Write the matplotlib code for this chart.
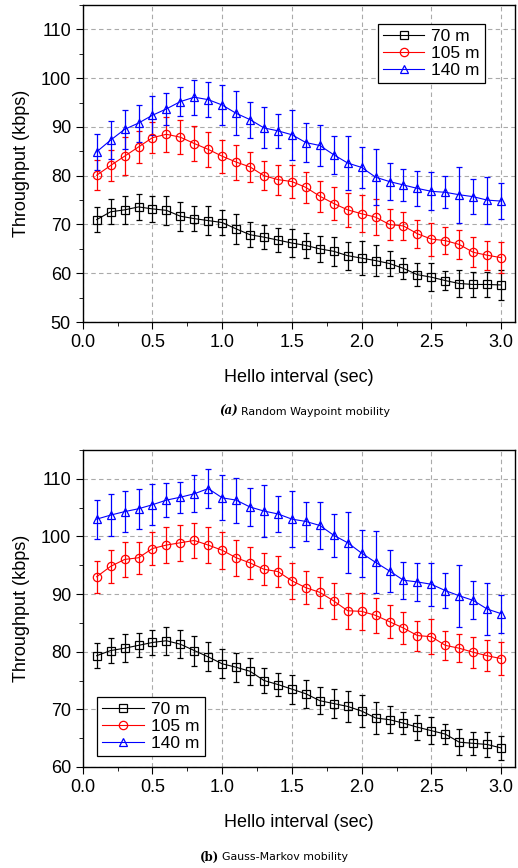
import numpy as np
import matplotlib
matplotlib.use("Agg")
import matplotlib.pyplot as plt
from matplotlib.ticker import MultipleLocator

plt.rcParams['font.family'] = ['Liberation Sans', 'DejaVu Sans']

hello = [0.1, 0.2, 0.3, 0.4, 0.5, 0.6, 0.7, 0.8, 0.9, 1.0,
         1.1, 1.2, 1.3, 1.4, 1.5, 1.6, 1.7, 1.8, 1.9, 2.0,
         2.1, 2.2, 2.3, 2.4, 2.5, 2.6, 2.7, 2.8, 2.9, 3.0]
labels = ["70 m", "105 m", "140 m"]

# (a) Random Waypoint
rw_70 = [71.0, 72.6, 73.0, 73.6, 73.2, 72.9, 71.7, 71.2, 70.8, 70.4,
         69.1, 67.9, 67.4, 66.8, 66.2, 65.7, 65.0, 64.5, 63.6, 63.1,
         62.6, 62.0, 61.0, 59.7, 59.2, 58.5, 57.9, 57.7, 57.7, 57.6]
rw_70_err = [2.5, 2.6, 2.8, 2.7, 2.7, 3.0, 3.0, 2.5, 2.9, 2.6,
             3.0, 2.6, 2.5, 2.5, 2.9, 2.6, 2.6, 3.0, 2.9, 3.5,
             3.1, 2.6, 2.2, 2.4, 2.9, 2.0, 2.7, 2.5, 2.6, 3.0]
rw_105 = [80.1, 82.1, 84.0, 85.9, 87.8, 88.5, 87.9, 86.6, 85.4, 84.0,
          82.8, 81.8, 80.0, 79.2, 78.8, 77.6, 75.8, 74.3, 73.0, 72.2,
          71.5, 70.0, 69.7, 68.1, 67.0, 66.7, 65.9, 64.3, 63.7, 63.2]
rw_105_err = [3.1, 3.2, 3.9, 3.3, 3.2, 3.6, 3.5, 3.6, 3.6, 3.4,
              3.6, 3.1, 3.0, 3.1, 3.3, 3.2, 3.2, 3.3, 3.5, 3.8,
              3.7, 3.2, 2.8, 2.9, 3.4, 2.7, 3.0, 3.1, 3.0, 3.2]
rw_140 = [84.9, 87.3, 89.5, 90.8, 92.4, 93.7, 95.2, 96.1, 95.6, 94.5,
          92.8, 91.5, 89.8, 89.2, 88.4, 86.8, 86.2, 84.3, 82.6, 81.7,
          79.7, 78.8, 78.1, 77.4, 76.8, 76.6, 76.1, 75.7, 75.0, 74.8]
rw_140_err = [3.7, 3.9, 4.0, 3.8, 4.0, 3.3, 2.9, 3.6, 3.6, 4.1,
              4.5, 3.7, 4.2, 3.5, 5.1, 4.0, 4.3, 3.9, 5.5, 4.2,
              5.7, 3.8, 3.3, 3.6, 3.9, 3.3, 5.7, 3.6, 4.8, 3.7]

# (b) Gauss-Markov
gm_70 = [79.3, 80.2, 80.6, 81.1, 81.6, 81.9, 81.3, 80.2, 79.1, 77.9,
         77.3, 76.6, 75.0, 74.3, 73.5, 72.7, 71.5, 71.0, 70.5, 69.7,
         68.5, 68.2, 67.6, 66.9, 66.3, 65.7, 64.3, 64.1, 63.9, 63.3]
gm_70_err = [2.2, 2.2, 2.4, 2.1, 2.2, 2.4, 2.4, 2.6, 2.5, 2.5,
             2.5, 2.3, 2.2, 2.0, 2.5, 2.4, 2.3, 2.5, 2.7, 2.8,
             2.7, 2.3, 1.9, 2.2, 2.4, 1.7, 2.3, 2.0, 2.2, 2.1]
gm_105 = [93.0, 94.8, 96.0, 96.3, 97.9, 98.5, 98.9, 99.3, 98.5, 97.6,
          96.3, 95.4, 94.3, 93.9, 92.3, 91.1, 90.3, 88.8, 87.1, 87.0,
          86.3, 85.2, 84.1, 82.8, 82.6, 81.1, 80.6, 79.9, 79.3, 78.8]
gm_105_err = [2.8, 2.9, 3.0, 2.8, 2.8, 3.1, 3.1, 3.1, 3.1, 3.2,
              3.1, 2.8, 2.8, 2.7, 3.1, 2.9, 2.7, 3.1, 3.1, 3.2,
              3.0, 2.9, 2.8, 2.6, 3.0, 2.5, 2.4, 2.7, 2.7, 2.8]
gm_140 = [103.0, 103.7, 104.3, 104.8, 105.5, 106.3, 106.8, 107.4, 108.3, 106.7,
          106.3, 105.1, 104.4, 103.9, 103.0, 102.6, 101.9, 100.2, 98.9, 97.1,
          95.5, 94.0, 92.4, 92.1, 91.7, 90.6, 89.7, 88.9, 87.4, 86.6]
gm_140_err = [3.4, 3.6, 3.6, 3.5, 3.6, 3.0, 2.7, 3.2, 3.4, 3.9,
              3.9, 3.3, 4.5, 3.2, 4.8, 3.4, 4.1, 3.7, 5.3, 4.1,
              5.4, 3.6, 3.2, 3.3, 3.7, 3.0, 5.4, 3.3, 4.5, 3.3]

colors = ["black", "red", "blue"]
markers = ["s", "o", "^"]

fig = plt.figure(figsize=(5.18, 8.68), dpi=100)
ax1 = fig.add_axes([0.1597, 0.629, 0.8346, 0.3652])
ax2 = fig.add_axes([0.1597, 0.1164, 0.8346, 0.3652])


def draw(ax, series, ylim, legend_loc, legend_anchor):
    handles = []
    for (y, e), c, m, lab in zip(series, colors, markers, labels):
        eb = ax.errorbar(hello, y, yerr=e, color=c, ecolor=c, marker=m, ms=6,
                         mfc="none", mec=c, mew=0.9, lw=0.8, elinewidth=0.9,
                         capsize=2.5, capthick=0.9, label=lab)
        handles.append(eb.lines[0])
    ax.set_xlim(0, 3.1)
    ax.set_ylim(*ylim)
    ax.xaxis.set_major_locator(MultipleLocator(0.5))
    ax.xaxis.set_minor_locator(MultipleLocator(0.25))
    ax.yaxis.set_major_locator(MultipleLocator(10))
    ax.yaxis.set_minor_locator(MultipleLocator(5))
    ax.xaxis.set_major_formatter(plt.FormatStrFormatter("%.1f"))
    ax.tick_params(which="major", direction="out", length=5, labelsize=13)
    ax.tick_params(which="minor", direction="out", length=3)
    ax.grid(True, which="major", ls=(0, (4, 3)), color="#aaaaaa", lw=0.8)
    ax.set_axisbelow(True)
    ax.set_xlabel("Hello interval (sec)", fontsize=13, labelpad=13)
    ax.set_ylabel("Throughput (kbps)", fontsize=13, labelpad=8)
    for s in ax.spines.values():
        s.set_linewidth(1.0)
    leg = ax.legend(handles, labels, loc=legend_loc, bbox_to_anchor=legend_anchor,
                    fontsize=12.5, fancybox=False, edgecolor="black", framealpha=1,
                    handlelength=2.4, handletextpad=0.4, borderpad=0.3,
                    labelspacing=0.1, borderaxespad=0)
    leg.get_frame().set_linewidth(0.9)


draw(ax1, [(rw_70, rw_70_err), (rw_105, rw_105_err), (rw_140, rw_140_err)],
     (50, 115), "upper right", (0.9306, 0.94))
draw(ax2, [(gm_70, gm_70_err), (gm_105, gm_105_err), (gm_140, gm_140_err)],
     (60, 115), "lower left", (0.033, 0.035))

fig.text(238 / 518, 1 - 411.5 / 868, "(a)", family="DejaVu Serif", weight="bold",
         style="italic", fontsize=8.5, ha="right", va="center")
fig.text(241 / 518, 1 - 411.5 / 868, "Random Waypoint mobility", family="DejaVu Sans",
         fontsize=7.9, ha="left", va="center")
fig.text(219 / 518, 1 - 857 / 868, "(b)", family="DejaVu Serif", weight="bold",
         fontsize=8.5, ha="right", va="center")
fig.text(222 / 518, 1 - 857 / 868, "Gauss-Markov mobility", family="DejaVu Sans",
         fontsize=7.9, ha="left", va="center")

fig.savefig("out.png", dpi=100)
